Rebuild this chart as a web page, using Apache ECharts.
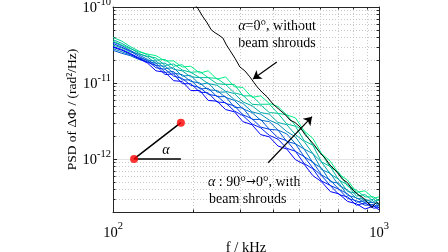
<!DOCTYPE html>
<html>
<head>
<meta charset="utf-8">
<script src="https://cdn.jsdelivr.net/npm/echarts@6/dist/echarts.min.js"></script>
<style>
  html, body { margin: 0; padding: 0; background: #fff; }
  #chart { width: 448px; height: 252px; }
</style>
</head>
<body>
<div id="chart"></div>
<script>
"use strict";

// frequency grid of the shrouded spectra, kHz
const freqShroud = [100, 108, 116, 125, 135, 145, 157, 169, 182, 196, 212, 228, 246, 265, 286, 308,
  333, 359, 387, 417, 450, 485, 523, 564, 608, 656, 707, 762, 822, 886, 955, 1000];

// log10 of PSD (rad^2/Hz), with beam shrouds, alpha = 0° ... 90°
const logPsd0 = [-10.45, -10.50, -10.55, -10.59, -10.62, -10.64, -10.71, -10.71, -10.79, -10.78, -10.87, -10.84, -10.95, -10.92, -11.05, -11.06,
  -11.19, -11.17, -11.27, -11.31, -11.42, -11.46, -11.63, -11.73, -11.93, -12.03, -12.20, -12.28, -12.44, -12.42, -12.52, -12.50];
const logPsd10 = [-10.40, -10.45, -10.52, -10.58, -10.63, -10.70, -10.69, -10.78, -10.76, -10.86, -10.85, -10.93, -10.94, -11.02, -11.02, -11.17,
  -11.17, -11.28, -11.28, -11.40, -11.42, -11.56, -11.64, -11.82, -11.93, -12.11, -12.18, -12.36, -12.41, -12.50, -12.50, -12.55];
const logPsd20 = [-10.50, -10.54, -10.59, -10.62, -10.65, -10.67, -10.77, -10.75, -10.83, -10.86, -10.93, -10.93, -11.01, -11.02, -11.13, -11.16,
  -11.28, -11.29, -11.39, -11.40, -11.54, -11.57, -11.76, -11.82, -12.04, -12.10, -12.28, -12.34, -12.49, -12.47, -12.56, -12.54];
const logPsd30 = [-10.43, -10.48, -10.54, -10.61, -10.66, -10.74, -10.74, -10.82, -10.84, -10.92, -10.93, -11.01, -11.03, -11.11, -11.14, -11.25,
  -11.30, -11.39, -11.41, -11.52, -11.55, -11.68, -11.77, -11.93, -12.04, -12.20, -12.27, -12.43, -12.45, -12.56, -12.53, -12.59];
const logPsd40 = [-10.55, -10.59, -10.63, -10.67, -10.70, -10.71, -10.81, -10.80, -10.91, -10.90, -11.02, -11.00, -11.12, -11.12, -11.22, -11.27,
  -11.38, -11.41, -11.49, -11.54, -11.64, -11.71, -11.87, -11.93, -12.14, -12.19, -12.35, -12.41, -12.52, -12.53, -12.58, -12.59];
const logPsd50 = [-10.46, -10.51, -10.57, -10.63, -10.69, -10.77, -10.78, -10.87, -10.89, -10.98, -11.00, -11.09, -11.10, -11.19, -11.23, -11.34,
  -11.39, -11.49, -11.51, -11.62, -11.67, -11.80, -11.87, -12.05, -12.12, -12.30, -12.32, -12.48, -12.51, -12.58, -12.57, -12.62];
const logPsd60 = [-10.57, -10.61, -10.64, -10.69, -10.72, -10.74, -10.86, -10.85, -10.96, -10.96, -11.08, -11.07, -11.18, -11.18, -11.32, -11.33,
  -11.48, -11.48, -11.61, -11.62, -11.77, -11.80, -11.97, -12.04, -12.21, -12.28, -12.40, -12.46, -12.57, -12.55, -12.63, -12.61];
const logPsd70 = [-10.48, -10.53, -10.58, -10.65, -10.71, -10.80, -10.82, -10.91, -10.94, -11.03, -11.06, -11.15, -11.17, -11.27, -11.30, -11.42,
  -11.47, -11.58, -11.61, -11.72, -11.76, -11.90, -11.97, -12.12, -12.22, -12.35, -12.40, -12.52, -12.55, -12.61, -12.60, -12.64];
const logPsd80 = [-10.52, -10.56, -10.61, -10.67, -10.73, -10.77, -10.89, -10.88, -11.01, -11.01, -11.12, -11.13, -11.25, -11.26, -11.37, -11.43,
  -11.54, -11.59, -11.69, -11.74, -11.86, -11.90, -12.06, -12.13, -12.29, -12.35, -12.47, -12.50, -12.61, -12.58, -12.65, -12.64];
const logPsd90 = [-10.53, -10.57, -10.62, -10.68, -10.74, -10.84, -10.86, -10.97, -10.98, -11.10, -11.10, -11.23, -11.24, -11.35, -11.38, -11.51,
  -11.55, -11.68, -11.71, -11.83, -11.87, -12.01, -12.07, -12.22, -12.30, -12.43, -12.46, -12.56, -12.59, -12.66, -12.62, -12.67];

const angleNames = ["0°", "10°", "20°", "30°", "40°", "50°", "60°", "70°", "80°", "90°"];
const shroudLogs = [logPsd0, logPsd10, logPsd20, logPsd30, logPsd40, logPsd50, logPsd60, logPsd70, logPsd80, logPsd90];
// matlab "winter" colormap, green (0°) -> blue (90°)
const shroudColors = ["#00f085", "#00d890", "#00c09c", "#00a8aa", "#008eb8", "#0071c6", "#0055d5", "#0039e3", "#001cf1", "#0000ff"];

// alpha = 0°, without beam shrouds
const freqBare = [190, 207, 217, 226, 234, 242, 250, 259, 267, 275, 288, 300, 313, 327, 338, 348, 363, 379, 400, 425,
  445, 463, 483, 505, 527, 550, 575, 600, 627, 654, 690, 730, 760, 798, 835, 870, 900, 940, 960, 980, 1000];
const logPsdBare = [-9.90, -10.00, -10.12, -10.21, -10.30, -10.34, -10.37, -10.41, -10.50, -10.57, -10.68, -10.79, -10.84, -10.92, -10.99, -11.05, -11.12, -11.18, -11.28, -11.36,
  -11.42, -11.49, -11.52, -11.58, -11.68, -11.75, -11.83, -11.92, -11.99, -12.08, -12.16, -12.27, -12.31, -12.41, -12.47, -12.51, -12.56, -12.64, -12.60, -12.57, -12.60];

// little sketch of the angle alpha (two beams, red ends)
const insetFreq = [180, 120, 180];
const insetPsd = [3e-12, 1e-12, 1e-12];
const insetDots = [[120, 1e-12], [180, 3e-12]];

// annotation arrows, tail -> head, [kHz, PSD]
const arrowBare = [[413, 1.89e-11], [336, 1.13e-11]];
const arrowSweep = [[383, 8.9e-13], [560, 3.6e-12]];

// minor grid / tick positions
const xMinor = [200, 300, 400, 500, 600, 700, 800, 900];
const yMinor = [3e-13, 4e-13, 5e-13, 6e-13, 7e-13, 8e-13, 9e-13,
  2e-12, 3e-12, 4e-12, 5e-12, 6e-12, 7e-12, 8e-12, 9e-12,
  2e-11, 3e-11, 4e-11, 5e-11, 6e-11, 7e-11, 8e-11, 9e-11];

const FONT = "Liberation Serif";
const AXIS_COLOR = "#262626";
const GRID_MAJOR = "#e4e4e4";
const GRID_MINOR = "#c8c8c8";

const powRich = {
  b: { fontFamily: FONT, fontSize: 14.5, color: "#000", padding: [3, 0, 0, 0] },
  s: { fontFamily: FONT, fontSize: 10.5, color: "#000", padding: [0, 0, 10, 0] }
};

const annotRich = {
  i: { fontFamily: FONT, fontSize: 14, fontStyle: "italic", fill: "#000" },
  t: { fontFamily: FONT, fontSize: 14, fill: "#000" },
  a: { fontFamily: "DejaVu Sans", fontSize: 12, fill: "#000" }
};

/**
 * tick label as 10^n, blank for the off-decade axis ends
 */
function powLabel(value) {
  const e = Math.log10(value);
  const n = Math.round(e);
  if (Math.abs(e - n) > 0.01) {
    return "";
  }
  return "{b|10}{s|" + n + "}";
}

/**
 * custom series item: one dotted minor grid line with tiny inward ticks on both sides
 */
function minorGridItem(dim) {
  return function(params, api) {
    const cs = params.coordSys;
    const pt = api.coord([api.value(0), api.value(1)]);
    const dash = { stroke: GRID_MINOR, lineWidth: 1, lineDash: [1, 2] };
    const tick = { stroke: AXIS_COLOR, lineWidth: 1 };
    let children;
    if (dim === "y") {
      const y = Math.round(pt[1]) + 0.5,
        l = cs.x,
        r = cs.x + cs.width;
      children = [
        { type: "line", shape: { x1: l, y1: y, x2: r, y2: y }, style: dash },
        { type: "line", shape: { x1: l, y1: y, x2: l + 2.5, y2: y }, style: tick },
        { type: "line", shape: { x1: r - 2.5, y1: y, x2: r, y2: y }, style: tick }
      ];
    } else {
      const x = Math.round(pt[0]) + 0.5,
        t = cs.y,
        b = cs.y + cs.height;
      children = [
        { type: "line", shape: { x1: x, y1: t, x2: x, y2: b }, style: dash },
        { type: "line", shape: { x1: x, y1: b, x2: x, y2: b - 2.5 }, style: tick },
        { type: "line", shape: { x1: x, y1: t, x2: x, y2: t + 2.5 }, style: tick }
      ];
    }
    return { type: "group", children };
  };
}

function logAxis(extra) {
  return Object.assign(
    {
      type: "log",
      logBase: 10,
      axisLine: { show: true, lineStyle: { color: AXIS_COLOR, width: 1 } },
      axisTick: { show: true, inside: true, length: 4, lineStyle: { color: AXIS_COLOR } },
      splitLine: { show: false },
      minorTick: { show: false },
      minorSplitLine: { show: false }
    },
    extra
  );
}

const shroudSeries = shroudLogs.map((logs, k) => ({
  name: angleNames[k],
  type: "line",
  data: freqShroud.map((f, i) => [f, Math.pow(10, logs[i])]),
  showSymbol: false,
  symbol: "none",
  lineStyle: { color: shroudColors[k], width: 1 },
  itemStyle: { color: shroudColors[k] },
  z: 3,
  silent: true
}));

const chart = echarts.init(document.getElementById("chart"), null, { renderer: "canvas" });

chart.setOption({
  animation: false,
  grid: { left: 113, right: 69, top: 7, bottom: 40, containLabel: false, outerBoundsMode: "none" },
  xAxis: [
    logAxis({
      min: 100,
      max: 1000,
      name: "f / kHz",
      nameLocation: "middle",
      nameGap: 29,
      nameMoveOverlap: false,
      nameTextStyle: { fontFamily: FONT, fontSize: 14.5, color: "#000" },
      axisLabel: { margin: 9, formatter: powLabel, rich: powRich }
    }),
    logAxis({ min: 100, max: 1000, position: "top", axisLabel: { show: false } })
  ],
  yAxis: [
    logAxis({
      min: 2e-13,
      max: 1e-10,
      name: "PSD of ΔΦ / (rad²/Hz)",
      nameLocation: "middle",
      nameGap: 34,
      nameMoveOverlap: false,
      nameTextStyle: { fontFamily: FONT, fontSize: 13.5, color: "#000" },
      splitLine: { show: true, lineStyle: { color: GRID_MAJOR, width: 1 } },
      axisLabel: { margin: 2, formatter: powLabel, rich: powRich }
    }),
    logAxis({ min: 2e-13, max: 1e-10, position: "right", axisLabel: { show: false } })
  ],
  series: [
    {
      type: "custom",
      renderItem: minorGridItem("y"),
      data: yMinor.map(v => [100, v]),
      silent: true,
      z: 1
    },
    {
      type: "custom",
      renderItem: minorGridItem("x"),
      data: xMinor.map(v => [v, 1e-11]),
      silent: true,
      z: 1
    },
    ...shroudSeries,
    {
      name: "without shrouds",
      type: "line",
      data: freqBare.map((f, i) => [f, Math.pow(10, logPsdBare[i])]),
      showSymbol: false,
      symbol: "none",
      lineStyle: { color: "#000", width: 1 },
      z: 4,
      silent: true
    },
    {
      type: "line",
      data: insetFreq.map((f, i) => [f, insetPsd[i]]),
      showSymbol: false,
      symbol: "none",
      lineStyle: { color: "#000", width: 1.5 },
      z: 5,
      silent: true
    },
    {
      type: "scatter",
      data: insetDots,
      symbolSize: 8,
      itemStyle: { color: "#ff0000" },
      z: 6,
      silent: true
    },
    {
      type: "lines",
      coordinateSystem: "cartesian2d",
      data: [{ coords: arrowBare }, { coords: arrowSweep }],
      symbol: ["none", "arrow"],
      symbolSize: 8,
      lineStyle: { color: "#000", width: 1.2, opacity: 1 },
      z: 7,
      silent: true
    }
  ],
  graphic: [
    {
      type: "text",
      x: 277,
      y: 26,
      style: { text: "{i|α}{t|=0°, without}", align: "center", verticalAlign: "middle", rich: annotRich }
    },
    {
      type: "text",
      x: 277,
      y: 43,
      style: { text: "beam shrouds", font: '14px "Liberation Serif"', fill: "#000", align: "center", verticalAlign: "middle" }
    },
    {
      type: "text",
      x: 208,
      y: 182,
      style: { text: "{i|α}{t| : 90°}{a|→}{t|0°, with}", align: "left", verticalAlign: "middle", rich: annotRich }
    },
    {
      type: "text",
      x: 209,
      y: 199,
      style: { text: "beam shrouds", font: '14px "Liberation Serif"', fill: "#000", align: "left", verticalAlign: "middle" }
    },
    {
      type: "text",
      x: 166,
      y: 150,
      style: { text: "α", font: 'italic 14px "Liberation Serif"', fill: "#000", align: "center", verticalAlign: "middle" }
    }
  ]
});
</script>
</body>
</html>
